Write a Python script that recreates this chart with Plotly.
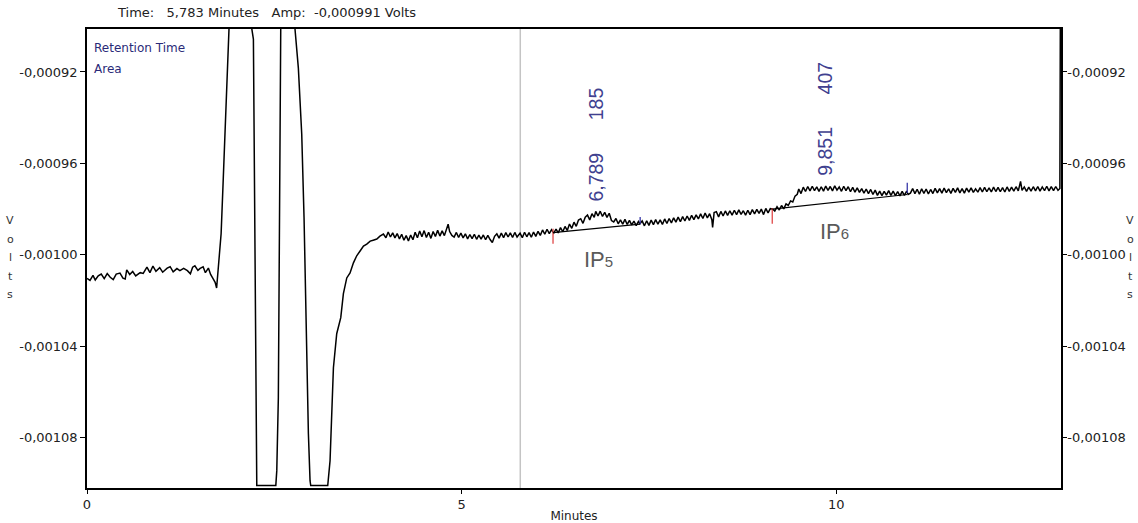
import plotly.graph_objects as go

# ---------------- data (minutes, microvolts) ----------------
time_min = [
    0.00, 0.04, 0.08, 0.11, 0.15, 0.19, 0.23, 0.27, 0.31, 0.35, 0.39, 0.44, 0.48, 0.51, 0.53,
    0.57, 0.61, 0.65, 0.71, 0.75, 0.80, 0.84, 0.88, 0.92, 0.97, 1.01, 1.07, 1.11, 1.15, 1.20,
    1.24, 1.29, 1.34, 1.38, 1.41, 1.44, 1.48, 1.51, 1.55, 1.58, 1.62, 1.65, 1.69, 1.71, 1.73,
    1.76, 1.79, 1.816, 1.842, 1.869, 1.883, 1.896, 1.92, 2.18, 2.199, 2.221, 2.256, 2.266, 2.52,
    2.533, 2.554, 2.577, 2.59, 2.76, 2.777, 2.821, 2.866, 2.897, 2.911, 2.933, 2.955, 2.977, 2.986,
    3.213, 3.244, 3.289, 3.333, 3.387, 3.422, 3.467, 3.511, 3.556, 3.600, 3.645, 3.69, 3.734, 3.78,
    3.82, 3.868, 3.91, 3.956,
    3.99, 4.02, 4.05, 4.08, 4.11, 4.14, 4.17, 4.20, 4.23, 4.26, 4.29, 4.32, 4.35, 4.38, 4.41,
    4.44, 4.47, 4.50, 4.53, 4.56, 4.59, 4.62, 4.65, 4.68, 4.71, 4.74, 4.77, 4.80, 4.82, 4.84,
    4.87, 4.90, 4.93, 4.96, 4.99, 5.02, 5.05, 5.08, 5.11, 5.14, 5.17, 5.20, 5.23, 5.26, 5.29,
    5.32, 5.35, 5.38, 5.41, 5.44, 5.47, 5.50, 5.53, 5.56, 5.59, 5.62, 5.65, 5.68, 5.71, 5.74,
    5.78, 5.81, 5.84, 5.87, 5.90, 5.93, 5.96, 5.99, 6.02, 6.05, 6.08, 6.11, 6.14, 6.17, 6.20,
    6.23, 6.26, 6.29, 6.32, 6.35, 6.38, 6.41, 6.44, 6.47, 6.50, 6.53, 6.56, 6.59, 6.62, 6.65,
    6.68, 6.71, 6.74, 6.77, 6.79, 6.82, 6.85, 6.88, 6.91, 6.94, 6.97, 7.00, 7.03, 7.06, 7.09,
    7.12, 7.15, 7.18, 7.21, 7.24, 7.27, 7.30, 7.33, 7.36, 7.38,
    7.41, 7.44, 7.47, 7.50, 7.53, 7.56, 7.59, 7.62, 7.65, 7.68, 7.71, 7.74, 7.77, 7.80, 7.83,
    7.86, 7.89, 7.92, 7.95, 7.98, 8.01, 8.04, 8.07, 8.10, 8.13, 8.16, 8.19, 8.22, 8.25, 8.28,
    8.31, 8.34, 8.35, 8.37, 8.40, 8.43, 8.46, 8.49, 8.52, 8.55, 8.58, 8.61, 8.64, 8.67, 8.70,
    8.73, 8.76, 8.79, 8.82, 8.85, 8.88, 8.91, 8.94, 8.97, 9.00, 9.03, 9.06, 9.09, 9.12, 9.15,
    9.18, 9.21, 9.24, 9.27, 9.30, 9.33, 9.36, 9.39, 9.42, 9.45, 9.48, 9.50, 9.53, 9.56, 9.59,
    9.62, 9.65, 9.68, 9.71, 9.74, 9.77, 9.80, 9.83, 9.86, 9.89, 9.92, 9.95, 9.98, 10.01, 10.04,
    10.07, 10.10, 10.13, 10.16, 10.19, 10.22, 10.25, 10.28, 10.31, 10.34, 10.37, 10.40, 10.43, 10.46, 10.49,
    10.52, 10.55, 10.58, 10.61, 10.64, 10.67, 10.70, 10.73, 10.76, 10.79, 10.82, 10.85, 10.88, 10.91, 10.94,
    10.96, 10.99, 11.02, 11.05, 11.08, 11.11, 11.14, 11.17, 11.20, 11.23, 11.26, 11.29, 11.32, 11.35, 11.38,
    11.41, 11.44, 11.47, 11.50, 11.53, 11.56, 11.59, 11.62, 11.65, 11.68, 11.71, 11.74, 11.77, 11.80, 11.83,
    11.86, 11.89, 11.92, 11.95, 11.98, 12.01, 12.04, 12.07, 12.10, 12.13, 12.16, 12.19, 12.22, 12.25, 12.28,
    12.31, 12.34, 12.37, 12.40, 12.43, 12.46, 12.48, 12.51, 12.54, 12.57, 12.60, 12.63, 12.66, 12.69, 12.72,
    12.75, 12.78, 12.81, 12.84, 12.87, 12.90, 12.93, 12.96, 12.985, 12.995,
]
signal_uV = [
    -1010.3, -1011.2, -1009.0, -1011.0, -1009.2, -1008.4, -1010.4, -1008.2, -1009.8, -1010.8, -1008.4, -1008.0, -1010.2, -1010.6, -1006.6,
    -1008.6, -1007.3, -1009.2, -1007.8, -1008.1, -1005.4, -1007.8, -1004.9, -1007.2, -1005.6, -1007.6, -1005.8, -1005.2, -1007.4, -1006.0,
    -1006.9, -1005.9, -1006.9, -1008.3, -1005.4, -1004.8, -1006.8, -1005.9, -1005.2, -1007.8, -1005.8, -1008.6, -1010.8, -1012.0, -1014.5,
    -1004.0, -990.8, -969.0, -947.1, -922.6, -910.8, -902.1, -880.0, -880.0, -901.0, -905.6, -1062.5, -1100.9, -1100.9,
    -1094.4, -1062.5, -903.4, -880.0, -880.0, -901.5, -918.3, -947.1, -983.8, -1010.1, -1042.0, -1078.3, -1098.8, -1100.9,
    -1100.9, -1090.1, -1049.4, -1034.5, -1027.5, -1017.0, -1010.1, -1007.9, -1003.5, -1000.4, -998.3, -996.2, -995.3, -994.0,
    -993.6, -993.1, -991.8, -990.9,
    -992.5, -990.0, -992.2, -990.4, -992.6, -990.7, -993.0, -991.0, -993.6, -991.6, -993.9, -991.3, -993.4, -990.1, -992.5,
    -989.6, -992.1, -989.4, -992.4, -990.1, -992.8, -989.8, -992.0, -989.3, -991.8, -989.5, -991.6, -988.6, -986.6, -989.8,
    -991.5, -992.2, -990.2, -992.4, -990.5, -992.6, -990.8, -993.0, -991.1, -992.9, -991.0, -993.2, -991.4, -993.1, -991.3,
    -993.4, -991.5, -993.3, -994.6, -991.9, -990.8, -992.7, -990.5, -992.5, -990.3, -992.2, -990.4, -992.4, -990.2, -992.2,
    -990.5, -992.5, -990.1, -992.1, -990.3, -992.3, -990.0, -991.9, -989.7, -991.5, -989.1, -991.0, -988.8, -990.7, -989.0,
    -990.5, -988.7, -990.4, -988.1, -989.9, -987.6, -989.3, -986.5, -988.4, -985.7, -987.5, -984.8, -984.2, -986.2, -983.5,
    -982.6, -984.7, -982.0, -983.6, -981.0, -983.0, -980.9, -983.2, -981.4, -983.6, -981.8, -985.0, -985.6, -984.1, -986.4,
    -984.7, -986.6, -984.5, -986.7, -984.9, -986.9, -985.2, -987.2, -985.4, -986.4,
    -985.2, -987.3, -985.1, -987.1, -984.8, -986.8, -984.6, -986.6, -984.7, -986.7, -984.3, -986.3, -984.1, -986.0, -983.8,
    -985.7, -983.5, -985.5, -983.3, -985.2, -983.0, -984.9, -982.7, -984.6, -982.5, -984.3, -982.1, -984.1, -981.7, -983.8,
    -982.0, -984.6, -988.0, -981.5, -981.1, -983.4, -981.0, -983.0, -980.8, -982.7, -980.7, -982.6, -980.5, -982.4, -980.3,
    -982.3, -980.7, -982.6, -980.5, -982.4, -980.2, -982.1, -980.1, -981.9, -980.0, -982.4, -979.7, -981.6, -979.8, -979.9,
    -980.8, -978.9, -980.4, -978.4, -979.9, -977.7, -978.4, -976.4, -976.9, -974.3, -973.5, -971.2, -973.2, -970.4, -972.3,
    -970.1, -972.0, -970.0, -971.9, -970.3, -972.2, -970.2, -972.1, -969.9, -971.8, -970.1, -972.0, -969.8, -971.7, -970.3,
    -972.2, -970.0, -971.9, -970.2, -972.4, -970.5, -972.6, -970.7, -972.7, -971.0, -973.0, -971.2, -973.2, -971.4, -973.6,
    -971.7, -974.0, -972.1, -974.1, -972.2, -973.9, -971.9, -974.0, -972.1, -974.1, -972.3, -974.2, -972.2, -974.0, -972.1,
    -973.6, -973.0, -971.0, -973.2, -971.3, -973.5, -971.1, -973.1, -971.2, -973.4, -971.4, -973.2, -970.9, -972.9, -971.0,
    -973.0, -970.8, -972.8, -971.1, -973.1, -970.9, -972.7, -970.7, -972.9, -971.0, -973.0, -970.8, -972.6, -970.7, -972.7,
    -971.1, -972.6, -970.6, -972.5, -970.5, -972.4, -970.7, -972.5, -970.4, -972.3, -970.5, -972.4, -970.6, -972.5, -970.3,
    -972.2, -970.4, -972.1, -970.2, -972.0, -967.9, -971.8, -970.3, -972.2, -970.4, -972.1, -970.2, -972.0, -970.1, -972.1,
    -970.3, -971.9, -970.0, -972.0, -970.2, -971.9, -970.1, -971.8, -971.0, -850.0,
]

# integration marks (minutes, microvolts)
peak_start_time = [6.22, 9.146]
peak_start_top = [-988.6, -979.5]
peak_start_bottom = [-995.2, -986.4]
peak_end_time = [7.383, 10.948]
peak_end_top = [-983.4, -968.5]
peak_end_bottom = [-986.6, -972.9]
baseline_start = [-990.3, -980.0]
baseline_end = [-986.6, -973.6]

peak_rt = [6.789, 9.851]
peak_rt_text = ["6,789", "9,851"]
peak_area_text = ["185", "407"]
peak_label_base_uV = [-977.3, -965.8]
peak_names = ["5", "6"]
peak_name_time = [6.61, 9.75]
peak_name_uV = [-1002.2, -989.9]

cursor_time = 5.783
header = "Time:\u00a0\u00a0 5,783 Minutes\u00a0\u00a0 Amp:\u00a0 -0,000991 Volts"

x_tickvals = [0, 5, 10]
x_ticktext = ["0", "5", "10"]
y_tickvals = [-0.00092, -0.00096, -0.00100, -0.00104, -0.00108]
y_ticktext = ["-0,00092", "-0,00096", "-0,00100", "-0,00104", "-0,00108"]
y_range = [-0.0011020, -0.0009012]
x_range = [0, 13]

# ---------------- figure ----------------
W, H = 1138, 523
ML, MR, MT, MB = 87, 77, 29, 35
PW, PH = W - ML - MR, H - MT - MB


def px_x(p):
    return (p - ML) / PW


def px_y(p):
    return (H - MB - p) / PH


UV = 1e-6
y_signal = [v * UV for v in signal_uV]

fig = go.Figure()

fig.add_trace(go.Scatter(x=time_min, y=y_signal, mode="lines",
                         line=dict(color="black", width=1.5), hoverinfo="skip",
                         showlegend=False))

# baselines under peaks
bx, by = [], []
for t0, t1, b0, b1 in zip(peak_start_time, peak_end_time, baseline_start, baseline_end):
    bx += [t0, t1, None]
    by += [b0 * UV, b1 * UV, None]
fig.add_trace(go.Scatter(x=bx, y=by, mode="lines", line=dict(color="black", width=1.2),
                         yaxis="y2", showlegend=False, hoverinfo="skip"))

# red start ticks
rx, ry = [], []
for t, a, b in zip(peak_start_time, peak_start_top, peak_start_bottom):
    rx += [t, t, None]
    ry += [a * UV, b * UV, None]
fig.add_trace(go.Scatter(x=rx, y=ry, mode="lines", line=dict(color="#e04848", width=1.3),
                         showlegend=False, hoverinfo="skip"))
# blue end ticks
ex, ey = [], []
for t, a, b in zip(peak_end_time, peak_end_top, peak_end_bottom):
    ex += [t, t, None]
    ey += [a * UV, b * UV, None]
fig.add_trace(go.Scatter(x=ex, y=ey, mode="lines", line=dict(color="#3838a8", width=1.3),
                         showlegend=False, hoverinfo="skip"))

small_font = dict(family="DejaVu Sans", size=13, color="#222222")
axis_common = dict(showgrid=False, zeroline=False, showline=True, linecolor="black",
                   linewidth=1.5, ticks="outside", tickcolor="black", tickwidth=1,
                   tickfont=small_font, automargin=False)

fig.update_layout(
    width=W, height=H, autosize=False,
    margin=dict(l=ML, r=MR, t=MT, b=MB, pad=0),
    paper_bgcolor="white", plot_bgcolor="white",
    showlegend=False,
    xaxis=dict(range=x_range, tickvals=x_tickvals, ticktext=x_ticktext, ticklen=4,
               ticklabelstandoff=0,
               mirror=True, title=dict(text="Minutes", font=dict(family="DejaVu Sans", size=12, color="#222"),
                                       standoff=8), **axis_common),
    yaxis=dict(range=y_range, tickvals=y_tickvals, ticktext=y_ticktext, ticklen=5,
               ticklabelstandoff=0, **axis_common),
    yaxis2=dict(range=y_range, tickvals=y_tickvals, ticktext=y_ticktext, ticklen=4,
                overlaying="y", side="right", anchor="x", ticklabelstandoff=-2, **axis_common),
)

fig.add_shape(type="line", xref="x", yref="paper", x0=cursor_time, x1=cursor_time, y0=0, y1=1,
              line=dict(color="#c4c4c4", width=1.5), layer="below")

ann = []
ann.append(dict(text=header, xref="paper", yref="paper", x=px_x(115), y=px_y(13),
                xanchor="left", yanchor="middle", showarrow=False, font=small_font))
ann.append(dict(text="Retention Time", xref="paper", yref="paper", x=px_x(92), y=px_y(48),
                xanchor="left", yanchor="middle", showarrow=False,
                font=dict(family="DejaVu Sans", size=12, color="#2a2a78")))
ann.append(dict(text="Area", xref="paper", yref="paper", x=px_x(92), y=px_y(69),
                xanchor="left", yanchor="middle", showarrow=False,
                font=dict(family="DejaVu Sans", size=12, color="#2a2a78")))
letters = ["V", "o", "l", "t", "s"]
letter_y = [220, 239, 257, 276, 294]
for ch, yy in zip(letters, letter_y):
    for xx in (10, 1130):
        ann.append(dict(text=ch, xref="paper", yref="paper", x=px_x(xx), y=px_y(yy),
                        xanchor="center", yanchor="middle", showarrow=False,
                        font=dict(family="DejaVu Sans", size=11, color="#333")))
for rt, rtt, at, base in zip(peak_rt, peak_rt_text, peak_area_text, peak_label_base_uV):
    ann.append(dict(text=rtt + "\u00a0" * 6 + at, x=rt, y=base * UV, xref="x", yref="y",
                    textangle=-90, xanchor="center", yanchor="bottom", showarrow=False,
                    borderpad=0,
                    font=dict(family="Liberation Sans", size=19.5, color="#40408f")))
for nm, t, v in zip(peak_names, peak_name_time, peak_name_uV):
    ann.append(dict(text="IP<span style='font-size:15px'>" + nm + "</span>", x=t, y=v * UV,
                    xref="x", yref="y", xanchor="left", yanchor="middle", showarrow=False,
                    font=dict(family="Liberation Sans", size=22, color="#5a5a5a")))
fig.update_layout(annotations=ann)

fig.write_html("out.html")
